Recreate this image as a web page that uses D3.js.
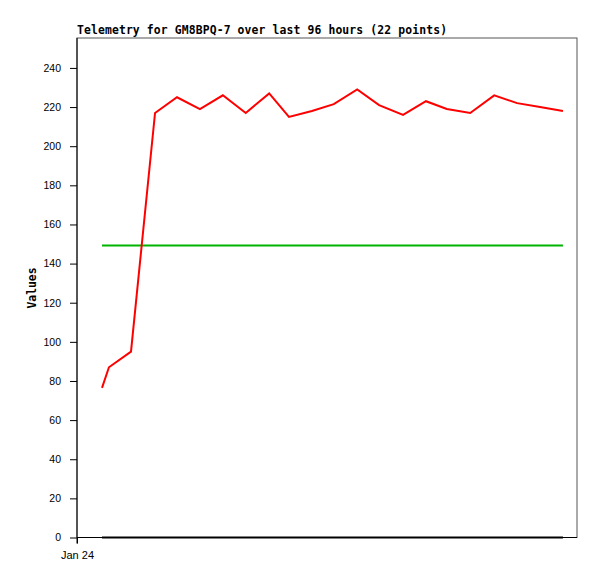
<!DOCTYPE html>
<html><head><meta charset="utf-8">
<script src="https://cdn.jsdelivr.net/npm/d3@7"></script>
<style>body{margin:0;background:#fff}svg{display:block}</style>
</head><body><svg id="c" width="597" height="579"></svg>
<script>
const title = "Telemetry for GM8BPQ-7 over last 96 hours (22 points)";
const yLabel = "Values";
const times = ["2024-01-24T04:48","2024-01-24T06:08","2024-01-24T10:22","2024-01-24T14:59","2024-01-24T19:12",
  "2024-01-24T23:36","2024-01-25T04:00","2024-01-25T08:24","2024-01-25T12:54","2024-01-25T16:42",
  "2024-01-25T21:06","2024-01-26T01:18","2024-01-26T05:48","2024-01-26T10:00","2024-01-26T14:36",
  "2024-01-26T19:00","2024-01-26T23:00","2024-01-27T03:30","2024-01-27T08:06","2024-01-27T12:30",
  "2024-01-27T16:54","2024-01-27T21:18"];
const redValues = [76.5, 87, 95, 217, 225, 219, 226, 217, 227, 215,
  218, 221.5, 229, 221, 216, 223, 219, 217, 226, 222, 220, 218];
const greenValues = Array(22).fill(149.3);
const blackValues = Array(22).fill(0);
const yTicks = [0,20,40,60,80,100,120,140,160,180,200,220,240];
const xTickDates = ["2024-01-24T00:00"];
const xTickLabels = ["Jan 24"];
const domainStart = "2024-01-24T00:00", domainEnd = "2024-01-28T00:00";

const parse = d3.isoParse;
const svg = d3.select("#c");
const L = 77, R = 577, T = 38, B = 537.5;
const x = d3.scaleTime().domain([parse(domainStart), parse(domainEnd)]).range([L, R]);
const y = d3.scaleLinear().domain([0, 255.3]).range([B, T]);

svg.append("rect").attr("x", L).attr("y", T).attr("width", R - L).attr("height", B - T)
  .attr("fill", "none").attr("stroke", "#555").attr("stroke-width", 1);

const line = d3.line().x((d, i) => x(parse(times[i]))).y(d => y(d));
const series = [[blackValues, "#000"], [greenValues, "#00b400"], [redValues, "#ff0000"]];
series.forEach(([vals, col]) => {
  svg.append("path").datum(vals).attr("d", line).attr("fill", "none")
    .attr("stroke", col).attr("stroke-width", 2);
});

const yAxis = d3.axisLeft(y).tickValues(yTicks).tickSize(7).tickPadding(9);
const gy = svg.append("g").attr("transform", `translate(${L},0)`).call(yAxis);
gy.select(".domain").remove();
gy.append("line").attr("x1", 0).attr("x2", 0).attr("y1", T).attr("y2", B + 6).attr("stroke", "#000");
gy.selectAll("text").attr("font-family", "Liberation Sans, Arial, sans-serif").attr("font-size", "10.5px").attr("fill", "#000");

const xAxis = d3.axisBottom(x).tickValues(xTickDates.map(parse))
  .tickFormat((d, i) => xTickLabels[i]).tickSize(6).tickPadding(8);
const gx = svg.append("g").attr("transform", `translate(0,${B})`).call(xAxis);
gx.select(".domain").remove();
gx.append("line").attr("x1", L).attr("x2", R).attr("y1", 0).attr("y2", 0).attr("stroke", "#000");
gx.selectAll("text").attr("font-family", "Liberation Sans, Arial, sans-serif").attr("font-size", "11px").attr("fill", "#000");

svg.append("text").attr("x", L).attr("y", 34).text(title)
  .attr("textLength", 370).attr("lengthAdjust", "spacing")
  .attr("font-family", "DejaVu Sans Mono, monospace").attr("font-weight", "bold").attr("font-size", "11.4px");

svg.append("text").attr("transform", "translate(36,288) rotate(-90)").attr("text-anchor", "middle").text(yLabel)
  .attr("font-family", "DejaVu Sans Mono, monospace").attr("font-weight", "bold").attr("font-size", "11.4px");
</script></body></html>
